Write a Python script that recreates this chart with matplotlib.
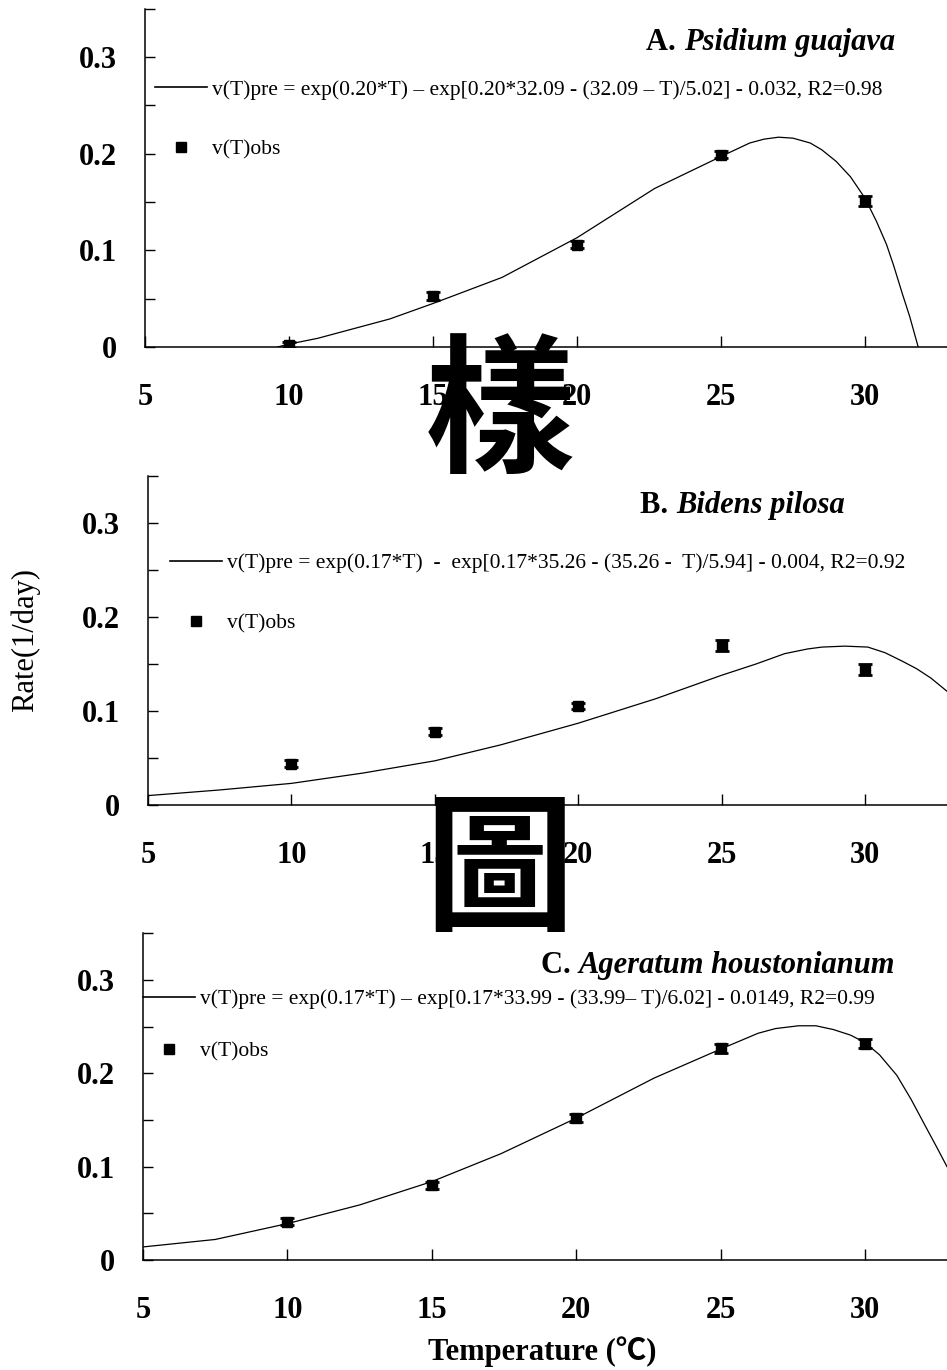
import matplotlib
matplotlib.use("Agg")
import matplotlib.pyplot as plt
from matplotlib.lines import Line2D
from matplotlib.ticker import MultipleLocator

plt.rcParams["font.family"] = ["Liberation Serif", "Noto Sans CJK TC"]

# observed development rates (mean, error) at the test temperatures
TEMPS = [10, 15, 20, 25, 30]

OBS_A = [0.002, 0.053, 0.106, 0.199, 0.151]
ERR_A = [0.003, 0.004, 0.004, 0.004, 0.005]
OBS_B = [0.044, 0.078, 0.105, 0.170, 0.144]
ERR_B = [0.004, 0.004, 0.003, 0.006, 0.006]
OBS_C = [0.041, 0.080, 0.152, 0.227, 0.232]
ERR_C = [0.004, 0.004, 0.004, 0.005, 0.005]

# fitted curves
FIT_T_A = [9.6, 10, 11, 12, 13.5, 15, 17.4, 20, 22.7, 25, 26, 26.5, 27, 27.5, 28.1,
           28.5, 29, 29.5, 30, 30.4, 30.75, 31.0, 31.3, 31.55, 31.85]
FIT_V_A = [0.0, 0.003, 0.009, 0.017, 0.029, 0.045, 0.072, 0.113, 0.164, 0.197, 0.211,
           0.215, 0.217, 0.216, 0.211, 0.204, 0.192, 0.176, 0.154, 0.130, 0.106,
           0.084, 0.055, 0.032, 0.0]
FIT_T_B = [5, 7.5, 10, 12.5, 15, 17.3, 20, 22.7, 25, 26.2, 27.2, 28, 28.5, 29.3, 30.1,
           30.7, 31.3, 31.8, 32.3, 32.86]
FIT_V_B = [0.010, 0.016, 0.023, 0.034, 0.047, 0.064, 0.087, 0.113, 0.138, 0.150, 0.161,
           0.166, 0.168, 0.169, 0.168, 0.162, 0.153, 0.145, 0.135, 0.121]
FIT_T_C = [5, 7.5, 10, 12.5, 15, 17.4, 20, 22.7, 25, 26.3, 26.9, 27.7, 28.3, 28.9,
           29.5, 30, 30.5, 31.1, 31.6, 32.1, 32.5, 32.84]
FIT_V_C = [0.014, 0.022, 0.039, 0.059, 0.084, 0.114, 0.152, 0.195, 0.226, 0.243, 0.248,
           0.251, 0.251, 0.247, 0.241, 0.233, 0.220, 0.198, 0.172, 0.143, 0.120, 0.100]

PREFIXES = ["A.", "B.", "C."]
SPECIES = ["Psidium guajava", "Bidens pilosa", "Ageratum houstonianum"]
EQUATIONS = [
    "v(T)pre = exp(0.20*T) \u2013 exp[0.20*32.09 - (32.09 \u2013 T)/5.02] - 0.032, R2=0.98",
    "v(T)pre = exp(0.17*T)  -  exp[0.17*35.26 - (35.26 -  T)/5.94] - 0.004, R2=0.92",
    "v(T)pre = exp(0.17*T) \u2013 exp[0.17*33.99 - (33.99\u2013 T)/6.02] - 0.0149, R2=0.99",
]
ROW_GAP = [1.85, 1.85, 1.5]

W, H = 947, 1370


def rect(x0, x_end, y0, y_top):
    # pixel box -> figure fraction
    return [x0 / W, 1 - y0 / H, (x_end - x0) / W, (y0 - y_top) / H]


fig = plt.figure(figsize=(W / 100, H / 100), dpi=100)

panels = [
    dict(box=rect(145, 947, 347, 8.6), xmax=32.85, obs=OBS_A, err=ERR_A,
         ft=FIT_T_A, fv=FIT_V_A, leg=(0.0125, 0.79), title=(0.935, 0.901)),
    dict(box=rect(148, 947, 805, 476), xmax=32.86, obs=OBS_B, err=ERR_B,
         ft=FIT_T_B, fv=FIT_V_B, leg=(0.0275, 0.765), title=(0.872, 0.909)),
    dict(box=rect(143, 947, 1260, 933.4), xmax=32.84, obs=OBS_C, err=ERR_C,
         ft=FIT_T_C, fv=FIT_V_C, leg=(0.0, 0.829), title=(0.935, 0.903)),
]

for i, p in enumerate(panels):
    ax = fig.add_axes(p["box"])
    ax.plot(p["ft"], p["fv"], color="black", lw=0.9)
    ax.errorbar(TEMPS, p["obs"], yerr=p["err"], fmt="s", color="black", ms=7,
                capsize=5, elinewidth=1.5, capthick=2)
    ax.set_xlim(5, p["xmax"])
    ax.set_ylim(0, 0.35)
    ax.set_xticks([5, 10, 15, 20, 25, 30])
    ax.set_yticks([0, 0.1, 0.2, 0.3])
    ax.set_yticklabels(["0", "0.1", "0.2", "0.3"])
    ax.yaxis.set_minor_locator(MultipleLocator(0.05))
    ax.tick_params(axis="x", direction="in", length=8, width=1, pad=26,
                   labelsize=22)
    ax.tick_params(axis="y", which="both", direction="in", length=7, width=1,
                   pad=20, labelsize=22)
    for lab in ax.get_xticklabels() + ax.get_yticklabels():
        lab.set_fontweight("bold")
    for s in ("top", "right"):
        ax.spines[s].set_visible(False)
    for s in ("left", "bottom"):
        ax.spines[s].set_linewidth(1.1)

    handles = [Line2D([], [], color="black", lw=1.2),
               Line2D([], [], marker="s", ls="none", color="black", ms=7)]
    ax.legend(handles, [EQUATIONS[i], "v(T)obs"], loc="upper left",
              bbox_to_anchor=p["leg"], frameon=False, fontsize=15.5,
              handlelength=2.4, handletextpad=0.25, labelspacing=ROW_GAP[i],
              borderpad=0, borderaxespad=0)

    sp = ax.text(p["title"][0], p["title"][1], SPECIES[i], transform=ax.transAxes,
                 ha="right", va="center", fontsize=22, fontweight="bold",
                 fontstyle="italic")
    ax.annotate(PREFIXES[i] + " ", xy=(0, 0.5), xycoords=sp, ha="right",
                va="center", fontsize=22, fontweight="bold")

fig.text(25 / W, 1 - 640 / H, "Rate(1/day)", rotation=90, ha="center",
         va="center", fontsize=22)
fig.text(542 / W, 1 - 1352 / H, "Temperature (\u2103)", ha="center", va="center",
         fontsize=22, fontweight="bold")

# watermark characters across the figure
fig.text(500 / W, 1 - 417 / H, "樣", ha="center", va="center", fontsize=108,
         fontweight="bold", family="Noto Sans CJK TC", zorder=10)
fig.text(499 / W, 1 - 875 / H, "圖", ha="center", va="center", fontsize=108,
         fontweight="bold", family="Noto Sans CJK TC", zorder=10)

fig.savefig("out.png", dpi=100)
